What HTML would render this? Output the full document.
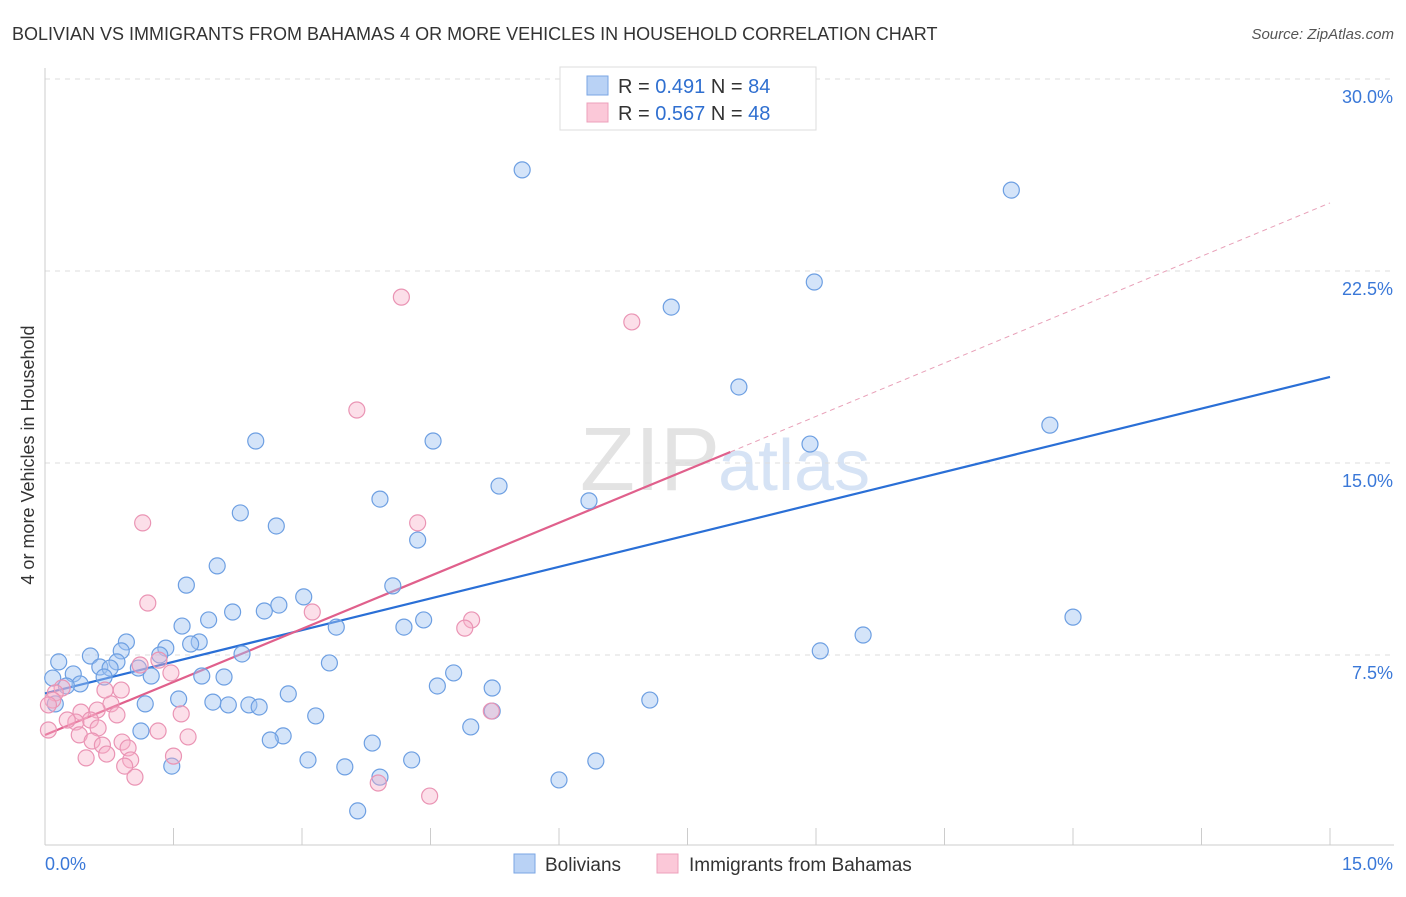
<!DOCTYPE html>
<html><head><meta charset="utf-8"><style>
body{margin:0;background:#fff;font-family:"Liberation Sans",sans-serif}
svg text{font-family:"Liberation Sans",sans-serif}
</style></head><body>
<svg id="chart" width="1406" height="892">
<text x="12" y="40" font-size="18" fill="#333">BOLIVIAN VS IMMIGRANTS FROM BAHAMAS 4 OR MORE VEHICLES IN HOUSEHOLD CORRELATION CHART</text>
<text x="1394" y="39" font-size="15" fill="#555" text-anchor="end" font-style="italic">Source: ZipAtlas.com</text>
<text transform="translate(34,455) rotate(-90)" font-size="18" fill="#333" text-anchor="middle">4 or more Vehicles in Household</text>
<text x="720" y="490" font-size="90" fill="#e3e3e3" text-anchor="end" font-family="Liberation Serif">ZIP</text>
<text x="718" y="490" font-size="72" fill="#d6e3f5">atlas</text>
<g id="grid"></g><g id="axes"></g><g id="lines"></g><g id="pts"></g>
<g>
<rect x="560" y="67" width="256" height="63" fill="#fff" stroke="#ddd"/>
<rect x="587" y="76" width="21" height="19" fill="#b9d2f5" stroke="#7aa6e4"/>
<rect x="587" y="103" width="21" height="19" fill="#fbc8d8" stroke="#eca0bb"/>
<text x="618" y="93" font-size="20" fill="#333">R = <tspan fill="#2f6fd0">0.491</tspan>   N = <tspan fill="#2f6fd0">84</tspan></text>
<text x="618" y="120" font-size="20" fill="#333">R = <tspan fill="#2f6fd0">0.567</tspan>   N = <tspan fill="#2f6fd0">48</tspan></text>
</g>
<g>
<rect x="514" y="854" width="21" height="19" fill="#b9d2f5" stroke="#7aa6e4"/>
<text x="545" y="871" font-size="19" fill="#333">Bolivians</text>
<rect x="657" y="854" width="21" height="19" fill="#fbc8d8" stroke="#eca0bb"/>
<text x="689" y="871" font-size="19" fill="#333">Immigrants from Bahamas</text>
</g>
</svg>
<script>
const yTicks=[7.5,15,22.5,30];
const yTickLabels=["7.5%","15.0%","22.5%","30.0%"];
const xTickCount=11;
const blueX=[5.57,11.28,8.98,7.31,8.10,11.73,8.93,2.46,4.53,5.30,3.91,6.35,2.28,2.70,4.35,2.01,1.65,4.06,3.02,2.73,2.56,2.19,12.0,1.91,4.42,1.60,3.40,4.19,9.55,0.95,1.80,1.70,0.89,1.41,2.30,9.05,0.53,1.34,0.16,0.84,0.64,3.32,0.76,1.09,0.33,1.24,0.69,2.09,4.77,1.83,0.09,0.41,0.25,4.58,5.22,2.84,1.56,7.06,1.17,1.96,2.14,2.38,2.50,0.12,3.16,5.22,4.97,1.12,2.78,2.63,3.82,3.07,4.28,6.43,1.48,3.50,3.91,6.00,3.65];
const blueY=[26.45,25.66,22.07,21.09,17.97,16.48,15.74,15.86,15.86,14.10,13.59,13.52,13.05,12.54,11.99,10.98,10.23,10.20,9.77,9.45,9.22,9.18,8.98,8.87,8.87,8.63,8.59,8.59,8.28,8.01,8.01,7.93,7.66,7.77,7.54,7.66,7.46,7.5,7.23,7.23,7.03,7.19,6.99,6.99,6.76,6.68,6.64,6.64,6.80,6.68,6.6,6.37,6.29,6.29,6.21,5.98,5.78,5.74,5.59,5.66,5.55,5.55,5.47,5.59,5.12,5.31,4.69,4.53,4.34,4.18,4.06,3.40,3.40,3.36,3.16,3.13,2.73,2.62,1.41];
const pinkX=[4.16,6.85,3.64,1.14,4.35,1.20,3.12,4.98,4.90,1.11,1.33,1.47,0.89,0.20,0.12,0.09,0.04,0.04,0.77,0.61,0.42,0.53,0.36,0.84,1.59,0.26,0.62,0.40,1.32,1.67,0.55,0.67,0.90,0.97,0.72,1.50,0.48,1.0,0.93,1.05,3.89,4.49,5.21,0.70];
const pinkY=[21.48,20.51,17.07,12.66,12.66,9.53,9.18,8.87,8.55,7.11,7.3,6.80,6.13,6.21,6.02,5.74,5.55,4.57,5.59,5.35,5.27,4.96,4.88,5.16,5.2,4.96,4.65,4.38,4.53,4.30,4.14,3.98,4.10,3.87,3.63,3.55,3.48,3.40,3.16,2.73,2.50,1.99,5.31,6.13];
const blueLine=[6.0,18.36]; // at x=0 and x=15
const pinkLine=[4.375,15.43,25.16]; // at x=0, x=8, x=15
const X0=45,X1=1330,Y0=847,YPX=25.6;
const sx=v=>X0+(X1-X0)*v/15, sy=v=>Y0-v*YPX;
const NS="http://www.w3.org/2000/svg";
function mk(tag,attrs,parent){const e=document.createElementNS(NS,tag);for(const k in attrs)e.setAttribute(k,attrs[k]);parent.appendChild(e);return e;}
const grid=document.getElementById('grid'),axes=document.getElementById('axes');
yTicks.forEach((t,i)=>{
 const g=mk('line',{x1:X0,x2:1394,y1:sy(t),y2:sy(t),stroke:'#ddd','stroke-dasharray':'5,5'},grid);
 
 
 const l=mk('text',{x:1393,y:sy(t)+24,'font-size':18,fill:'#3a78d8','text-anchor':'end'},axes);
 l.textContent=yTickLabels[i];
 
 
});
const ax=mk('line',{x1:X0,x2:1394,y1:845,y2:845,stroke:'#ccc'},axes);


const ay=mk('line',{x1:X0,x2:X0,y1:68,y2:845,stroke:'#ccc'},axes);


for(let i=0;i<xTickCount;i++){const x=sx(i*1.5);
 const t=mk('line',{x1:x,x2:x,y1:828,y2:845,stroke:'#ccc'},axes);
 
 }
const xl0=mk('text',{x:45,y:870,'font-size':18,fill:'#3a78d8'},axes);xl0.textContent='0.0%';


const xl1=mk('text',{x:1393,y:870,'font-size':18,fill:'#3a78d8','text-anchor':'end'},axes);xl1.textContent='15.0%';


const pts=document.getElementById('pts');
blueX.forEach((x,i)=>{const c=mk('circle',{cx:sx(x),cy:sy(blueY[i]),r:8,fill:'rgba(160,195,242,0.45)',stroke:'#6d9fe2','stroke-width':1.2},pts);
 
 });
pinkX.forEach((x,i)=>{const c=mk('circle',{cx:sx(x),cy:sy(pinkY[i]),r:8,fill:'rgba(247,175,200,0.4)',stroke:'#ea94b4','stroke-width':1.2},pts);
 
 });
const lines=document.getElementById('lines');
const bl=mk('line',{x1:sx(0),y1:sy(blueLine[0]),x2:sx(15),y2:sy(blueLine[1]),stroke:'#2a6fd6','stroke-width':2.2},lines);


const pl=mk('line',{x1:sx(0),y1:sy(pinkLine[0]),x2:sx(8),y2:sy(pinkLine[1]),stroke:'#e0608c','stroke-width':2.2},lines);


const pd=mk('line',{x1:sx(8),y1:sy(pinkLine[1]),x2:sx(15),y2:sy(pinkLine[2]),stroke:'#e8a0b8','stroke-width':1,'stroke-dasharray':'5,4'},lines);


</script>
</body></html>
